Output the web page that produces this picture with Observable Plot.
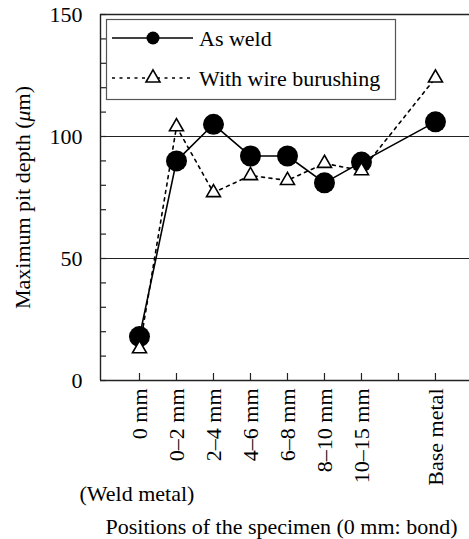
<!DOCTYPE html>
<html><head><meta charset="utf-8">
<script src="https://cdn.jsdelivr.net/npm/d3@7"></script>
<script src="https://cdn.jsdelivr.net/npm/@observablehq/plot@0.6"></script>
<style>
html,body{margin:0;padding:0;background:#fff}
#chart svg{display:block}
</style>
</head><body><div id="chart"></div>
<script>
const positions = ["0 mm","0–2 mm","2–4 mm","4–6 mm","6–8 mm","8–10 mm","10–15 mm","Base metal"];
const slots = [0,1,2,3,4,5,6,8];
const tickSlots = [0,1,2,3,4,5,6,7,8];
const asWeld = [18,90,105,92,92,81,89.5,106];
const withBrushing = [13,104,77,84,82,89,86,124];
const yLabels = [0,50,100,150];
const yMinor = [0,10,20,30,40,50,60,70,80,90,100,110,120,130,140,150];
const gridValues = [50,100];
const seriesNames = ["As weld","With wire burushing"];
const yTitle = "Maximum pit depth (μm)";
const xTitle = "Positions of the specimen (0 mm: bond)";
const note = "(Weld metal)";

const rows = slots.map((s,i)=>({slot:s, label:positions[i], asWeld:asWeld[i], brushed:withBrushing[i]}));

const W = 469, H = 539, ML = 100, MR = 0, MT = 14, MB = 159;
const plotW = W-ML-MR, plotH = H-MT-MB;
const xDomain = [-1.054, 8.92];

const chart = Plot.plot({
  width: W, height: H,
  marginLeft: ML, marginRight: MR, marginTop: MT, marginBottom: MB,
  style: {"font-family": "Times New Roman", "font-size": "22px", "color": "black", "background": "white"},
  x: {domain: xDomain, axis: null},
  y: {domain: [0,150], axis: null},
  marks: [
    Plot.ruleY(gridValues, {stroke:"#222", strokeWidth:1.2}),
    Plot.ruleY([0,150], {stroke:"#222", strokeWidth:1.4}),
    Plot.ruleX([xDomain[0]], {stroke:"#222", strokeWidth:1.4}),
    Plot.tickY(yMinor, {y:d=>d, insetRight: plotW-6, stroke:"#222", strokeWidth:1.2}),
    Plot.tickX(tickSlots, {x:d=>d, insetTop: plotH-7, stroke:"#222", strokeWidth:1.2}),
    Plot.axisY(yLabels, {tickSize:0, tickPadding:18, fontSize:22, fontFamily:"Liberation Serif", label:null}),
    Plot.axisX(slots, {tickFormat: d => positions[slots.indexOf(d)], tickSize:0, tickRotate:-90, textAnchor:"end", lineAnchor:"middle", tickPadding:8, fontSize:22, fontFamily:"Liberation Serif", label:null}),
    Plot.text([yTitle], {frameAnchor:"left", textAnchor:"middle", rotate:-90, dx:-78, fontSize:22, fontFamily:"serif", text:d=>d}),
    Plot.text([note], {frameAnchor:"bottom-left", textAnchor:"start", lineAnchor:"middle", dx:-21, dy:113, fontSize:22, fontFamily:"Liberation Serif", text:d=>d}),
    Plot.text([xTitle], {frameAnchor:"bottom", textAnchor:"middle", lineAnchor:"middle", dx:-3.5, dy:146, fontSize:22, fontFamily:"Liberation Serif", text:d=>d}),
    Plot.line(rows, {x:"slot", y:"brushed", stroke:"black", strokeWidth:1.6, strokeDasharray:"3,4.5"}),
    Plot.line(rows, {x:"slot", y:"asWeld", stroke:"black", strokeWidth:1.6}),
    Plot.dot(rows, {x:"slot", y:"asWeld", r:10.5, fill:"black", stroke:"none"}),
    Plot.dot(rows, {x:"slot", y:"brushed", symbol:"triangle", r:5.2, fill:"white", stroke:"black", strokeWidth:1.6})
  ]
});
document.getElementById("chart").appendChild(chart);

const svg = d3.select(chart);
svg.attr("font-family", "Liberation Serif");
// italic mu in y title
svg.selectAll("text").filter(function(){return this.textContent === yTitle;}).each(function(){
  const t = d3.select(this);
  t.text(null);
  t.append("tspan").text("Maximum pit depth (");
  t.append("tspan").attr("font-style","italic").text("μ");
  t.append("tspan").text("m)");
});

// legend
const lg = svg.append("g").attr("font-size", 22).attr("font-family", "Liberation Serif").attr("text-anchor","start");
lg.append("rect").attr("x",106.5).attr("y",19.5).attr("width",289).attr("height",80)
  .attr("fill","white").attr("stroke","#555").attr("stroke-width",1.2);
const rowsY = [38, 78];
lg.append("line").attr("x1",112).attr("x2",193).attr("y1",rowsY[0]).attr("y2",rowsY[0]).attr("stroke","black").attr("stroke-width",1.6);
lg.append("circle").attr("cx",153).attr("cy",rowsY[0]).attr("r",6.5).attr("fill","black");
lg.append("line").attr("x1",112).attr("x2",193).attr("y1",rowsY[1]).attr("y2",rowsY[1]).attr("stroke","black").attr("stroke-width",1.6).attr("stroke-dasharray","3,4.5");
lg.append("path").attr("transform",`translate(153,${rowsY[1]})`).attr("d", d3.symbol(d3.symbolTriangle, 5.2*5.2*Math.PI)()).attr("fill","white").attr("stroke","black").attr("stroke-width",1.6);
seriesNames.forEach((n,i)=>{
  lg.append("text").attr("x",199).attr("y",rowsY[i]).attr("dy","0.35em").attr("text-anchor","start").text(n);
});
</script>
</body></html>
